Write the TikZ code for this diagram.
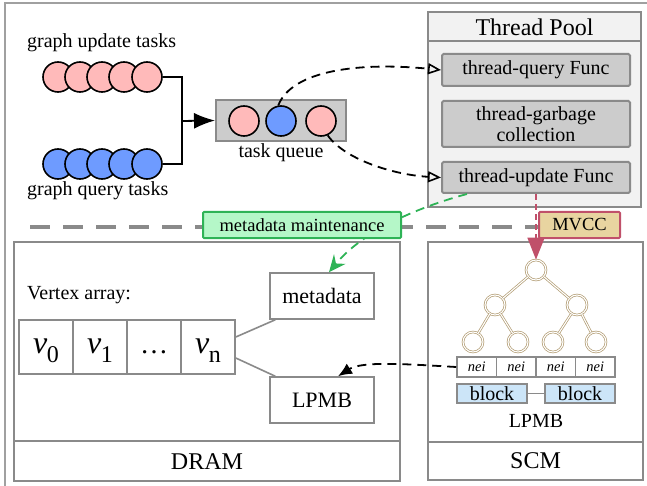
\documentclass[tikz,border=0pt]{standalone}
\usepackage{fontspec}
\setmainfont{Liberation Serif}
\usetikzlibrary{arrows.meta,calc}

\definecolor{framegray}{HTML}{A0A0A0}
\definecolor{edgegray}{HTML}{8A8A8A}
\definecolor{boxgray}{HTML}{CCCCCC}
\definecolor{poolfill}{HTML}{F2F2F2}
\definecolor{taskpink}{HTML}{FFBABA}
\definecolor{taskblue}{HTML}{6E9BFF}
\definecolor{mgreen}{HTML}{2EB356}
\definecolor{mgreenfill}{HTML}{B5F7C8}
\definecolor{mvccred}{HTML}{C0506A}
\definecolor{mvccfill}{HTML}{E8D4A0}
\definecolor{treetan}{HTML}{B09A70}
\definecolor{blockblue}{HTML}{CCE5F8}

\newcommand{\fsz}[1]{\fontsize{#1}{#1}\selectfont}

\begin{document}
\begin{tikzpicture}[x=1pt,y=-1pt,
  frame/.style={draw=framegray,line width=2pt},
  membox/.style={draw=edgegray,line width=2pt,fill=white,inner sep=0pt},
  graybox/.style={draw=edgegray,line width=2pt,fill=boxgray,rounded corners=1.5pt,
    inner sep=0pt,align=center,font=\fsz{20}},
  tpbox/.style={draw=edgegray,line width=2pt,fill=poolfill,inner sep=0pt},
  taskc/.style={circle,draw=black,line width=1.6pt,minimum size=30pt,inner sep=0pt},
  pinkc/.style={taskc,fill=taskpink},
  bluec/.style={taskc,fill=taskblue},
  cell/.style={draw=edgegray,line width=1.6pt,fill=white,minimum width=54pt,
    minimum height=54pt,inner sep=0pt,text height=18pt,text depth=6pt},
  plainbox/.style={draw=edgegray,line width=1.6pt,fill=white,minimum width=104pt,
    minimum height=46pt,inner sep=0pt,font=\fsz{22}},
  neicell/.style={draw=edgegray,line width=1.6pt,fill=white,minimum width=39.5pt,
    minimum height=20pt,inner sep=0pt,font=\fsz{14.5}\itshape},
  blockbox/.style={draw=edgegray,line width=1.6pt,fill=blockblue,minimum width=70pt,
    minimum height=19pt,inner sep=0pt,font=\fsz{20}},
  treenode/.style={circle,draw=treetan,double=white,double distance=1.1pt,
    line width=0.7pt,minimum size=20pt,inner sep=0pt},
  treeline/.style={draw=treetan,double=white,double distance=1.1pt,line width=0.7pt},
  blackdash/.style={draw=black,line width=1.8pt,dash pattern=on 9pt off 6pt},
  link/.style={draw=edgegray,line width=1.6pt},
  lbl/.style={inner sep=0pt,font=\fsz{20}}
]
\useasboundingbox (0,0) rectangle (647,486);

% outer frame, running off the right and bottom edges
\begin{scope}
  \clip (0,0) rectangle (647,486);
  \draw[frame] (5,3) rectangle (680,520);
\end{scope}

% dashed boundary between the task side and the memory side
\draw[draw=edgegray,line width=3.5pt,dash pattern=on 20pt off 13pt] (30,227) -- (540,227);

% ---------- thread pool ----------
\node[tpbox,minimum width=213pt,minimum height=195pt] (tp) at (534.5,109.5) {};
\draw[draw=edgegray,line width=2pt] ($(tp.north west)+(0,30)$) -- ($(tp.north east)+(0,30)$);
\node[lbl,font=\fsz{24}] (tptitle) at (534.5,27) {Thread Pool};
\node[graybox,minimum width=188pt,minimum height=32pt] (tq) at (536,70) {thread-query Func};
\node[graybox,minimum width=188pt,minimum height=46pt] (tg) at (536,124)
  {thread-garbage\\[1pt]collection};
\node[graybox,minimum width=188pt,minimum height=31pt] (tu) at (536,177.5) {thread-update Func};

% ---------- incoming tasks ----------
\node[lbl,anchor=west] (ulabel) at (27,43) {graph update tasks};
\node[lbl,anchor=west] (qlabel) at (27,191) {graph query tasks};
\foreach \i/\x in {1/58,2/80,3/102,4/124,5/147}{
  \node[pinkc] (u\i) at (\x,77) {};
}
\foreach \i/\x in {1/58,2/80,3/102,4/124,5/147}{
  \node[bluec] (q\i) at (\x,164) {};
}
\coordinate (join) at (182,121);

\node[draw=edgegray,line width=2pt,fill=boxgray,minimum width=130pt,minimum height=41pt,
  inner sep=0pt] (queue) at (281,120.5) {};
\node[pinkc] (qa) at (244,121) {};
\node[bluec] (qb) at (281,121) {};
\node[pinkc] (qc) at (321,121) {};
\node[lbl] (qlbl) at (281,153) {task queue};

\draw[line width=1.8pt] (u5.east) -| (join) |- (q5.east);
\draw[line width=1.8pt,-{Latex[length=21pt,width=16pt]}] (join) -- (queue.west);

% dispatch of queued tasks to the worker functions
\draw[blackdash,-{Triangle[open,length=13pt,width=11pt,line width=1.6pt]}]
  (qb.100) .. controls (292,70) and (360,62) .. (tq.west);
\draw[blackdash,-{Triangle[open,length=13pt,width=11pt,line width=1.6pt]}]
  (qc.295) .. controls (345,160) and (395,175) .. (tu.west);

% ---------- DRAM ----------
\node[membox,minimum width=386pt,minimum height=239pt] (dram) at (207,361.5) {};
\draw[draw=edgegray,line width=2pt] ($(dram.north west)+(0,200)$) -- ($(dram.north east)+(0,200)$);
\node[lbl,font=\fsz{24}] (dramlbl) at (207,462) {DRAM};
\node[lbl,anchor=west] (valbl) at (27,295) {Vertex array:};
\node[cell] (v0) at (46,347) {\fsz{32}\itshape v\kern-0.5pt\raisebox{-9pt}{\upshape\fsz{24}0}};
\node[cell] (v1) at (100,347) {\fsz{32}\itshape v\kern-0.5pt\raisebox{-9pt}{\upshape\fsz{24}1}};
\node[cell] (vd) at (154,347) {\fsz{28}\ldots};
\node[cell] (vn) at (208,347) {\fsz{32}\itshape v\kern-0.5pt\raisebox{-9pt}{\upshape\fsz{24}n}};
\node[plainbox] (meta) at (322,296) {metadata};
\node[plainbox] (lp) at (322,400) {LPMB};
\draw[link] ([yshift=10pt]vn.east) -- ([xshift=6pt]meta.south west);
\draw[link] ([yshift=-11pt]vn.east) -- ([xshift=6pt]lp.north west);

% ---------- SCM ----------
\node[membox,minimum width=215pt,minimum height=238pt] (scm) at (535.5,361) {};
\draw[draw=edgegray,line width=2pt] ($(scm.north west)+(0,201)$) -- ($(scm.north east)+(0,201)$);
\node[lbl,font=\fsz{24}] (scmlbl) at (535.5,461) {SCM};

\node[treenode] (r) at (536,270) {};
\node[treenode] (a) at (495,305) {};
\node[treenode] (b) at (577,305) {};
\node[treenode] (a1) at (473,342) {};
\node[treenode] (a2) at (518,342) {};
\node[treenode] (b1) at (553,342) {};
\node[treenode] (b2) at (596,342) {};
\draw[treeline] (r) -- (a);
\draw[treeline] (r) -- (b);
\draw[treeline] (a) -- (a1);
\draw[treeline] (a) -- (a2);
\draw[treeline] (b) -- (b1);
\draw[treeline] (b) -- (b2);

\node[neicell] (n1) at (476.75,367) {nei};
\node[neicell] (n2) at (516.25,367) {nei};
\node[neicell] (n3) at (555.75,367) {nei};
\node[neicell] (n4) at (595.25,367) {nei};
\node[blockbox] (bk1) at (492,393.5) {block};
\node[blockbox] (bk2) at (580,393.5) {block};
\draw[link] (bk1.east) -- (bk2.west);
\node[lbl] (scmlp) at (536,421) {LPMB};

% neighbour blocks referenced from the vertex's LPMB entry
\draw[blackdash,-{Latex[length=14pt,width=12pt]}]
  (n1.west) .. controls (405,364) and (362,361) .. ([xshift=16pt]lp.north);

% ---------- update path annotations ----------
\draw[draw=mgreen,line width=1.8pt,dash pattern=on 9pt off 6pt,
  -{Stealth[length=17pt,width=15pt,inset=6pt]}]
  ([xshift=26pt]tu.south west) .. controls (415,208) and (362,232) .. ([xshift=7pt]meta.north);
\node[draw=mgreen,line width=2pt,fill=mgreenfill,minimum width=198pt,minimum height=26pt,
  inner sep=0pt,rounded corners=1pt,font=\fsz{18.5}] (mm) at (302,225) {metadata maintenance};

\draw[draw=mvccred,line width=1.6pt,dash pattern=on 6pt off 4pt,
  -{Triangle[length=22pt,width=17pt]}] (tu.south) -- (r.north);
\node[draw=mvccred,line width=2pt,fill=mvccfill,minimum width=81pt,minimum height=26pt,
  inner sep=0pt,rounded corners=1pt,font=\fsz{18.5}] (mvcc) at (579.5,225) {MVCC};
\end{tikzpicture}
\end{document}
